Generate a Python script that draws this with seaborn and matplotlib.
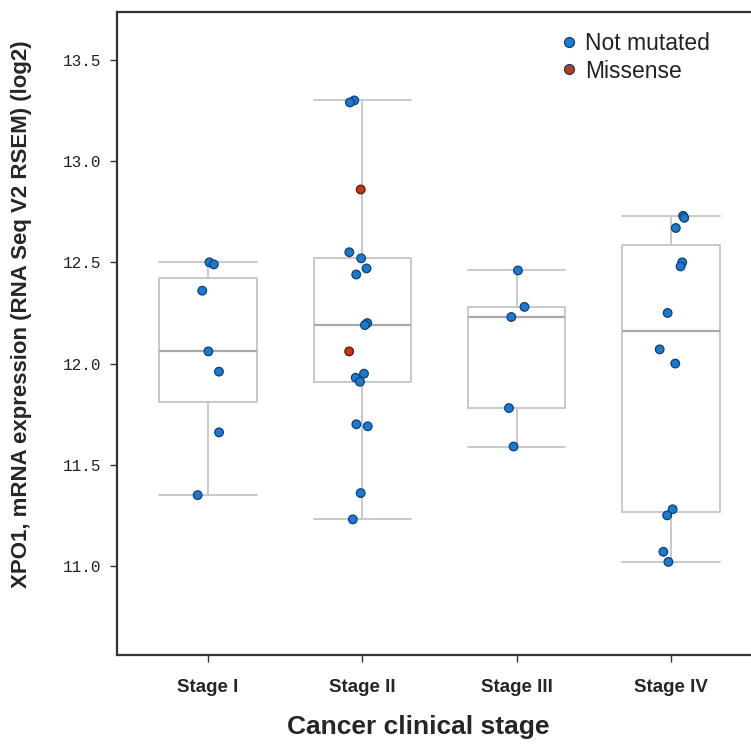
import numpy as np
import pandas as pd
import matplotlib
matplotlib.use("Agg")
import matplotlib.pyplot as plt
import seaborn as sns

stages = ["Stage I", "Stage II", "Stage III", "Stage IV"]
stage1_vals = [12.50, 12.49, 12.36, 12.06, 11.96, 11.66, 11.35]
stage1_mut = ["Not mutated"] * 7
stage2_vals = [13.30, 13.29, 12.86, 12.55, 12.52, 12.47, 12.44, 12.20, 12.19,
               12.06, 11.95, 11.93, 11.91, 11.70, 11.69, 11.36, 11.23]
stage2_mut = ["Not mutated", "Not mutated", "Missense", "Not mutated", "Not mutated",
              "Not mutated", "Not mutated", "Not mutated", "Not mutated", "Missense",
              "Not mutated", "Not mutated", "Not mutated", "Not mutated", "Not mutated",
              "Not mutated", "Not mutated"]
stage3_vals = [12.46, 12.28, 12.23, 11.78, 11.59]
stage3_mut = ["Not mutated"] * 5
stage4_vals = [12.73, 12.72, 12.67, 12.50, 12.48, 12.25, 12.07, 12.00, 11.28, 11.25, 11.07, 11.02]
stage4_mut = ["Not mutated"] * 12
mut_order = ["Not mutated", "Missense"]
yticks = [11.0, 11.5, 12.0, 12.5, 13.0, 13.5]

all_vals = [stage1_vals, stage2_vals, stage3_vals, stage4_vals]
all_muts = [stage1_mut, stage2_mut, stage3_mut, stage4_mut]
rows = []
for st, vals, muts in zip(stages, all_vals, all_muts):
    for v, m in zip(vals, muts):
        rows.append({"stage": st, "value": v, "mutation": m})
df = pd.DataFrame(rows)


def tukey_stats(vals):
    s = np.sort(np.asarray(vals, dtype=float))
    n = len(s)
    med = np.median(s)
    h = (n + 1) // 2
    q1 = np.median(s[:h])
    q3 = np.median(s[n - h:])
    iqr = q3 - q1
    lo = s[s >= q1 - 1.5 * iqr].min()
    hi = s[s <= q3 + 1.5 * iqr].max()
    return {"med": med, "q1": q1, "q3": q3, "whislo": lo, "whishi": hi, "fliers": []}


sns.set_style("white")
narrow = ["Liberation Sans Narrow", "Arial Narrow", "Liberation Sans", "DejaVu Sans"]

fig = plt.figure(figsize=(7.51, 7.55), dpi=100)
ax = fig.add_axes([117 / 751, 1 - 655 / 755, (751 - 117) / 751 + 0.01, (655 - 12) / 755])

box_col = "#c9c9c9"
ax.bxp([tukey_stats(v) for v in all_vals], positions=range(len(stages)), widths=0.63,
       showfliers=False, patch_artist=False,
       boxprops={"color": box_col, "linewidth": 1.4},
       whiskerprops={"color": box_col, "linewidth": 1.4},
       capprops={"color": box_col, "linewidth": 1.4},
       medianprops={"color": "#a9a9a9", "linewidth": 1.6},
       capwidths=0.63)

np.random.seed(3)
palette = {"Not mutated": "#1b7ad0", "Missense": "#c23a12"}
sns.stripplot(data=df, x="stage", y="value", order=stages, hue="mutation",
              hue_order=mut_order, palette=palette, jitter=0.09, size=6.2,
              linewidth=0.9, edgecolor="#0d3f78", ax=ax, zorder=5)
for coll in ax.collections:
    fc = coll.get_facecolors()
    if len(fc):
        ec = [(0.35, 0.08, 0.02, 1) if c[0] > 0.5 else (0.05, 0.25, 0.47, 1) for c in fc]
        coll.set_edgecolors(ec)

ax.set_xlim(-0.59, 3.567)
ax.set_ylim(10.56, 13.737)
ax.set_yticks(yticks)
ax.set_yticklabels([f"{t:.1f}" for t in yticks], family=["Liberation Mono", "DejaVu Sans Mono"],
                   fontsize=11.5, color="#222222")
ax.set_xticks(range(len(stages)))
ax.set_xticklabels(stages, family=narrow, fontweight="bold", fontsize=13.5)
ax.tick_params(axis="y", direction="out", length=5, width=1, color="#333333", pad=6, left=True)
ax.tick_params(axis="x", direction="out", length=5, width=1, color="#333333", pad=12, bottom=True)

for side in ["left", "bottom", "top"]:
    ax.spines[side].set_color("#333333")
    ax.spines[side].set_linewidth(1.6)
ax.spines["right"].set_visible(False)

ax.set_xlabel("Cancer clinical stage", family=narrow, fontweight="bold", fontsize=19)
ax.xaxis.set_label_coords(0.47, -0.094)
ax.set_ylabel("XPO1, mRNA expression (RNA Seq V2 RSEM) (log2)", family=narrow,
              fontweight="bold", fontsize=16)
ax.yaxis.set_label_coords(-0.133, 0.53)

leg = ax.legend(loc="upper left", bbox_to_anchor=(0.69, 0.969), frameon=False,
                fontsize=16.5, handlelength=0.8, handletextpad=0.3, labelspacing=0.2,
                borderaxespad=0.0, borderpad=0.0, markerscale=1.15)
for t in leg.get_texts():
    t.set_family(["Liberation Sans", "DejaVu Sans"])
    t.set_color("#222222")

fig.savefig("out.png", dpi=100)
